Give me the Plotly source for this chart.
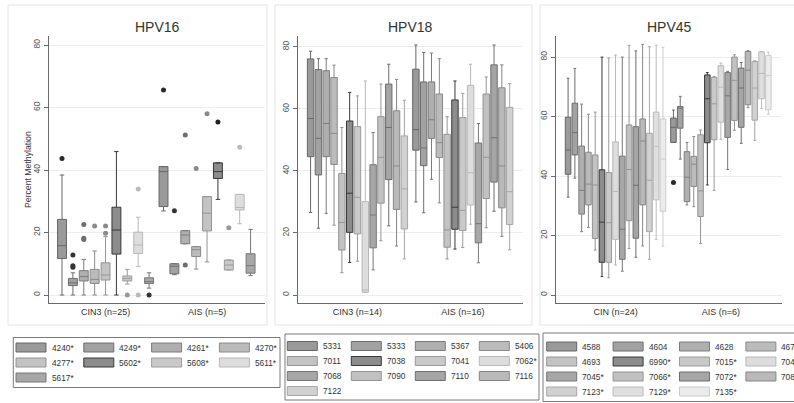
import plotly.graph_objects as go

W, H = 794, 403

# ---------------- data ----------------
HPV16_GROUPS = ["CIN3 (n=25)", "AIS (n=5)"]
HPV16_SERIES = ["4240*", "4249*", "4261*", "4270*", "4277*", "5602*", "5608*", "5611*", "5617*"]
# each entry: [CIN value, AIS value]
HPV16_LOW = [[0, 26.9], [0, 6.5], [0, 16.4], [0, 8.3], [0, 10.6], [0, 30.6], [3.5, 8.0], [9.1, 22.8], [2.2, 6.2]]
HPV16_Q1 = [[11.7, 28.3], [3.0, 6.8], [4.5, 16.4], [3.7, 12.3], [4.8, 20.5], [13.1, 37.3], [4.5, 8.0], [13.3, 27.2], [3.7, 7.0]]
HPV16_MED = [[15.8, 39.5], [3.9, 9.2], [5.9, 19.2], [5.0, 14.5], [6.4, 26.2], [20.8, 39.5], [5.3, 9.6], [16.0, 28.0], [4.3, 9.4]]
HPV16_Q3 = [[24.2, 41.1], [5.3, 10.0], [7.8, 20.6], [8.2, 15.5], [10.3, 31.5], [28.1, 42.3], [6.1, 11.2], [20.1, 32.2], [5.5, 13.2]]
HPV16_HIGH = [[38.4, 41.1], [7.1, 10.0], [11.4, 20.6], [14.1, 15.5], [18.7, 31.5], [45.9, 42.3], [8.2, 11.2], [24.9, 32.2], [7.1, 21.0]]
HPV16_OUT = [[[43.7], [65.6]], [[12.8, 9.4, 8.9], [27.0]], [[22.6, 18.2, 17.8], [51.2, 9.6]], [[22.1], [40.5]],
             [[22.1, 19.8], [58.0]], [[], [55.4]], [[0], [21.5]], [[33.9, 0], [47.3]], [[0], []]]

HPV18_GROUPS = ["CIN3 (n=14)", "AIS (n=16)"]
HPV18_SERIES = ["5331", "5333", "5367", "5406", "7011", "7038", "7041", "7062*", "7068", "7090", "7110", "7116", "7122"]
HPV18_LOW = [[26.6, 30.0], [21.5, 26.5], [26.3, 37.3], [22.5, 29.7], [7.2, 11.6], [10.5, 14.8], [10.9, 15.3],
             [0.9, 22.8], [8.1, 10.4], [17.5, 21.7], [22.3, 27.0], [15.8, 18.9], [11.6, 14.6]]
HPV18_Q1 = [[44.6, 46.7], [38.7, 41.7], [44.6, 50.5], [42.1, 44.3], [14.5, 15.4], [20.2, 21.2], [19.7, 20.8],
            [0.9, 29.0], [15.2, 16.8], [29.6, 31.1], [37.2, 36.4], [27.6, 28.1], [21.3, 22.7]]
HPV18_MED = [[56.9, 53.3], [50.5, 47.4], [55.3, 56.5], [52.1, 49.1], [23.4, 21.0], [32.8, 28.3], [31.5, 27.3],
             [1.6, 39.4], [25.8, 23.0], [44.4, 44.4], [54.0, 50.7], [41.6, 41.6], [34.2, 33.3]]
HPV18_Q3 = [[76.1, 72.8], [72.7, 68.7], [72.3, 68.7], [70.1, 64.8], [39.2, 51.8], [56.1, 62.9], [54.3, 57.2],
            [30.1, 67.6], [42.0, 49.0], [57.5, 64.8], [68.0, 74.2], [59.4, 66.8], [51.3, 60.5]]
HPV18_HIGH = [[78.6, 80.6], [76.2, 78.2], [76.2, 78.0], [74.1, 76.2], [54.0, 57.5], [65.3, 69.0], [64.2, 65.0],
              [69.0, 74.4], [52.4, 55.3], [68.0, 70.3], [74.4, 80.6], [69.5, 74.2], [62.8, 68.2]]
HPV18_OUT = [[[], []] for _ in HPV18_SERIES]

HPV45_GROUPS = ["CIN (n=24)", "AIS (n=6)"]
HPV45_SERIES = ["4588", "4604", "4628", "4675", "4693", "6990*", "7015*", "7043", "7045*", "7066*", "7072*",
                "7088", "7123*", "7129*", "7135*"]
HPV45_LOW = [[32.9, 51.3], [39.3, 45.7], [21.3, 30.3], [22.7, 29.7], [15.1, 17.3], [6.2, 37.0], [5.8, 35.2],
             [10.1, 52.3], [8.0, 42.2], [15.6, 55.4], [12.7, 51.0], [16.5, 63.0], [12.0, 52.0], [18.7, 62.7], [16.4, 60.8]]
HPV45_Q1 = [[40.6, 51.3], [47.1, 56.1], [27.2, 31.4], [30.3, 36.5], [19.0, 26.4], [11.0, 51.2], [11.0, 52.2],
            [18.7, 58.1], [12.0, 53.0], [25.0, 58.7], [19.1, 56.4], [30.3, 64.0], [21.3, 58.8], [32.0, 66.0], [28.2, 62.3]]
HPV45_MED = [[48.8, 56.4], [54.6, 62.8], [35.2, 39.6], [37.3, 44.0], [37.0, 35.0], [24.5, 66.0], [24.3, 64.3],
             [34.8, 69.9], [22.1, 67.0], [42.2, 72.2], [36.9, 69.6], [51.8, 75.6], [38.6, 69.6], [50.0, 74.5], [45.7, 73.8]]
HPV45_Q3 = [[59.8, 59.5], [64.5, 63.4], [50.1, 48.2], [48.0, 46.6], [47.1, 53.9], [42.1, 74.0], [41.2, 73.2],
            [51.5, 77.1], [46.7, 74.8], [57.2, 80.0], [56.6, 76.3], [59.2, 81.9], [54.4, 78.5], [61.5, 81.8], [59.2, 80.6]]
HPV45_HIGH = [[72.9, 62.2], [76.2, 66.8], [64.2, 51.3], [60.8, 53.3], [61.5, 55.5], [80.0, 74.8], [79.7, 73.5],
              [80.7, 78.0], [80.0, 75.2], [84.0, 80.8], [82.1, 78.2], [84.3, 82.2], [83.5, 78.8], [84.0, 81.8], [83.3, 81.7]]
HPV45_OUT = [[[], [37.8]]] + [[[], []] for _ in HPV45_SERIES[1:]]

Y_TICKS = [0, 20, 40, 60, 80]
Y_TITLE = "Percent Methylation"

# ---------------- styles ----------------
FILL = ["#9a9a9a", "#a2a2a2", "#afafaf", "#bbbbbb", "#c3c3c3", "#8c8c8c", "#c9c9c9", "#dddddd",
        "#a7a7a7", "#c1c1c1", "#a5a5a5", "#b9b9b9", "#d1d1d1", "#dfdfdf", "#ebebeb"]
LINE = ["#666666", "#6e6e6e", "#7c7c7c", "#8a8a8a", "#949494", "#383838", "#9c9c9c", "#b8b8b8",
        "#767676", "#949494", "#6e6e6e", "#868686", "#a6a6a6", "#bcbcbc", "#cccccc"]
DOT = ["#2a2a2a", "#333333", "#6e6e6e", "#8a8a8a", "#8a8a8a", "#222222", "#999999", "#bbbbbb",
       "#333333", "#888888", "#555555", "#888888", "#aaaaaa", "#bbbbbb", "#cccccc"]
FONT = "Liberation Sans, Arial, sans-serif"


def px(x):
    return x / W


def py(y):
    return 1 - y / H


panels = [
    dict(title="HPV16", groups=HPV16_GROUPS, series=HPV16_SERIES, low=HPV16_LOW, q1=HPV16_Q1, med=HPV16_MED,
         q3=HPV16_Q3, high=HPV16_HIGH, out=HPV16_OUT, xdom=(49, 265), xr=[-0.557, 1.571], yr=[-2.56, 82.9],
         frame=(8, 5, 267, 325), leg=(13.3, 337.5, 280, 387.5), sw0=16, pitch=67.8, row0=347.5),
    dict(title="HPV18", groups=HPV18_GROUPS, series=HPV18_SERIES, low=HPV18_LOW, q1=HPV18_Q1, med=HPV18_MED,
         q3=HPV18_Q3, high=HPV18_HIGH, out=HPV18_OUT, xdom=(298, 523), xr=[-0.565, 1.572], yr=[-2.58, 83.5],
         frame=(275, 5, 532, 325), leg=(285, 334, 539, 400), sw0=287.3, pitch=64.0, row0=346),
    dict(title="HPV45", groups=HPV45_GROUPS, series=HPV45_SERIES, low=HPV45_LOW, q1=HPV45_Q1, med=HPV45_MED,
         q3=HPV45_Q3, high=HPV45_HIGH, out=HPV45_OUT, xdom=(556, 782), xr=[-0.565, 1.58], yr=[-2.69, 87.1],
         frame=(540, 5, 820, 325), leg=(543, 333, 830, 401.5), sw0=546.7, pitch=66.4, row0=346.5),
]

fig = go.Figure()
shapes = []
annotations = []
ydom = [py(303), py(36)]

for k, p in enumerate(panels):
    n = k + 1
    xa = "x" if n == 1 else f"x{n}"
    ya = "y" if n == 1 else f"y{n}"
    for i, name in enumerate(p["series"]):
        box = dict(
            x=p["groups"], q1=p["q1"][i], median=p["med"][i], q3=p["q3"][i],
            lowerfence=p["low"][i], upperfence=p["high"][i],
            name=name, fillcolor=FILL[i], line=dict(color=LINE[i], width=1),
            marker=dict(color=DOT[i], size=5, line=dict(width=0)),
            whiskerwidth=0.5, offsetgroup=str(i), alignmentgroup=f"p{n}",
            xaxis=xa, yaxis=ya, showlegend=False, hoverinfo="skip",
        )
        outs = p["out"][i]
        if any(len(o) for o in outs):
            # per-box outlier samples; a group without outliers gets a single missing value
            box.update(y=[list(o) if o else [None] for o in outs],
                       boxpoints="outliers", jitter=0, pointpos=0)
        else:
            box.update(boxpoints=False)
        fig.add_trace(go.Box(**box))

    xkey = "xaxis" if n == 1 else f"xaxis{n}"
    ykey = "yaxis" if n == 1 else f"yaxis{n}"
    fig.update_layout({
        xkey: dict(domain=[px(p["xdom"][0]), px(p["xdom"][1])], anchor=ya, type="category",
                   categoryorder="array", categoryarray=p["groups"], range=p["xr"],
                   showline=True, linecolor="#6a6a6a", linewidth=1.3, ticks="", showgrid=False,
                   zeroline=False, tickfont=dict(family=FONT, size=9, color="#333")),
        ykey: dict(domain=ydom, anchor=xa, range=p["yr"], tickvals=Y_TICKS, tickangle=-90,
                   ticks="outside", ticklen=4, tickwidth=1, tickcolor="#6a6a6a",
                   showline=True, linecolor="#6a6a6a", linewidth=1.3, showgrid=True,
                   gridcolor="#ededed", gridwidth=1, zeroline=False,
                   tickfont=dict(family=FONT, size=8.5, color="#555")),
    })

    # panel frame
    fx0, fy0, fx1, fy1 = p["frame"]
    shapes.append(dict(type="rect", xref="paper", yref="paper", x0=px(fx0), x1=px(fx1), y0=py(fy1), y1=py(fy0),
                       line=dict(color="#e4e4e4", width=1), fillcolor="rgba(0,0,0,0)", layer="below"))
    # title
    annotations.append(dict(text=p["title"], xref="paper", yref="paper",
                            x=px((p["xdom"][0] + p["xdom"][1]) / 2), y=py(27), showarrow=False,
                            xanchor="center", yanchor="middle", font=dict(family=FONT, size=14, color="#333")))
    # legend (drawn as a 4-column key)
    lx0, ly0, lx1, ly1 = p["leg"]
    shapes.append(dict(type="rect", xref="paper", yref="paper", x0=px(lx0), x1=px(lx1), y0=py(ly1), y1=py(ly0),
                       line=dict(color="#7a7a7a", width=1), fillcolor="white"))
    for i, name in enumerate(p["series"]):
        col, row = i % 4, i // 4
        sx = p["sw0"] + col * p["pitch"]
        sy = p["row0"] + row * 15
        shapes.append(dict(type="rect", xref="paper", yref="paper", x0=px(sx), x1=px(sx + 30),
                           y0=py(sy + 4.5), y1=py(sy - 4.5), line=dict(color=LINE[i], width=1),
                           fillcolor=FILL[i]))
        annotations.append(dict(text=name, xref="paper", yref="paper", x=px(sx + 33.5), y=py(sy),
                                showarrow=False, xanchor="left", yanchor="middle",
                                font=dict(family=FONT, size=8.3, color="#333")))

# y-axis title of the first panel
annotations.append(dict(text=Y_TITLE, xref="paper", yref="paper", x=px(28), y=py(170), textangle=-90,
                        showarrow=False, xanchor="center", yanchor="middle",
                        font=dict(family=FONT, size=8.7, color="#333")))

fig.update_layout(
    width=W, height=H, margin=dict(l=0, r=0, t=0, b=0),
    paper_bgcolor="white", plot_bgcolor="white",
    boxmode="group", boxgap=0.035, boxgroupgap=0.18,
    shapes=shapes, annotations=annotations, showlegend=False,
    font=dict(family=FONT),
)

fig.write_html("out.html", config={"displayModeBar": False, "staticPlot": True},
               post_script="document.body.style.margin='0';document.body.style.overflow='hidden';")
